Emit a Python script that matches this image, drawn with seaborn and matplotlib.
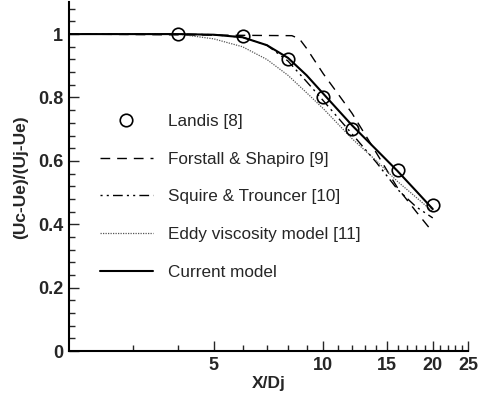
import matplotlib
matplotlib.use("Agg")
import matplotlib.pyplot as plt
import matplotlib.ticker as mticker
import seaborn as sns
import numpy as np

# ---- data ----
landis_x = [4, 6, 8, 10, 12, 16, 20]
landis_y = [1.0, 0.995, 0.92, 0.80, 0.70, 0.572, 0.462]

forstall_x = [2, 8.2, 8.6, 9, 10, 11, 12, 14, 16, 18, 20]
forstall_y = [1.0, 0.995, 0.985, 0.955, 0.875, 0.81, 0.75, 0.625, 0.515, 0.44, 0.375]

squire_x = [2, 4, 5, 6, 7, 8, 9, 10, 12, 14, 16, 18, 20]
squire_y = [1.0, 1.0, 0.998, 0.99, 0.965, 0.915, 0.85, 0.79, 0.685, 0.595, 0.51, 0.455, 0.42]

eddy_x = [2.8, 4, 5, 6, 7, 8, 9, 10, 12, 14, 16, 18, 20]
eddy_y = [1.0, 1.0, 0.985, 0.96, 0.92, 0.87, 0.815, 0.765, 0.67, 0.6, 0.535, 0.485, 0.44]

current_x = [2, 4, 5, 6, 7, 8, 9, 10, 12, 14, 16, 18, 20]
current_y = [1.0, 1.0, 0.998, 0.99, 0.965, 0.925, 0.87, 0.812, 0.712, 0.635, 0.568, 0.505, 0.448]

x_major = [5, 10, 15, 20, 25]
x_minor = [3, 4, 6, 7, 8, 9, 11, 12, 13, 14, 16, 17, 18, 19, 21, 22, 23, 24]
y_major = [0, 0.2, 0.4, 0.6, 0.8, 1.0]
y_tick_labels = ["0", "0.2", "0.4", "0.6", "0.8", "1"]

sns.set_style("ticks")
plt.rcParams['font.family'] = ['Liberation Sans', 'DejaVu Sans']

fig = plt.figure(figsize=(4.82, 3.98), dpi=100)
ax = fig.add_axes([0.143, 0.118, 0.828, 0.876])

sns.lineplot(x=forstall_x, y=forstall_y, ax=ax, color='black', lw=1.0,
             linestyle=(0, (7, 5)), label='Forstall & Shapiro [9]', sort=False, errorbar=None)
sns.lineplot(x=squire_x, y=squire_y, ax=ax, color='black', lw=1.0,
             linestyle=(0, (1.5, 3, 1.5, 3, 7, 3)), label='Squire & Trouncer [10]', sort=False, errorbar=None)
sns.lineplot(x=eddy_x, y=eddy_y, ax=ax, color='#555555', lw=0.9,
             linestyle=(0, (1, 1)), label='Eddy viscosity model [11]', sort=False, errorbar=None)
sns.lineplot(x=current_x, y=current_y, ax=ax, color='black', lw=1.5,
             label='Current model', sort=False, errorbar=None)
ax.plot(landis_x, landis_y, linestyle='none', marker='o', markersize=9,
        markerfacecolor='none', markeredgecolor='black', markeredgewidth=1.2,
        label='Landis [8]')

ax.set_xscale('log')
ax.set_xlim(2, 25)
ax.set_ylim(0, 1.1)
ax.xaxis.set_major_locator(mticker.FixedLocator(x_major))
ax.xaxis.set_major_formatter(mticker.FixedFormatter([str(v) for v in x_major]))
ax.xaxis.set_minor_locator(mticker.FixedLocator(x_minor))
ax.xaxis.set_minor_formatter(mticker.NullFormatter())
ax.yaxis.set_major_locator(mticker.FixedLocator(y_major))
ax.yaxis.set_major_formatter(mticker.FixedFormatter(y_tick_labels))
ax.yaxis.set_minor_locator(mticker.MultipleLocator(0.04))

ax.tick_params(which='major', direction='in', length=7, width=1.0, labelsize=13, pad=4)
ax.tick_params(which='minor', direction='in', length=4, width=1.0)
for lab in ax.get_xticklabels() + ax.get_yticklabels():
    lab.set_fontweight('bold')

for s in ['top', 'right']:
    ax.spines[s].set_visible(False)
for s in ['left', 'bottom']:
    ax.spines[s].set_linewidth(1.5)
    ax.spines[s].set_color('black')

ax.set_xlabel('X/Dj', fontsize=12.5, fontweight='bold', labelpad=2)
ax.set_ylabel('(Uc-Ue)/(Uj-Ue)', fontsize=12.5, fontweight='bold', labelpad=7)

handles, labels = ax.get_legend_handles_labels()
order = ['Landis [8]', 'Forstall & Shapiro [9]', 'Squire & Trouncer [10]',
         'Eddy viscosity model [11]', 'Current model']
hmap = dict(zip(labels, handles))
ax.legend([hmap[l] for l in order], order, loc='upper left',
          bbox_to_anchor=(100 / 482, 1 - 114 / 398), bbox_transform=fig.transFigure,
          frameon=False, fontsize=12.3, handlelength=3.1, handletextpad=0.88,
          labelspacing=1.33, borderpad=0, borderaxespad=0)

fig.savefig('out.png', dpi=100)
